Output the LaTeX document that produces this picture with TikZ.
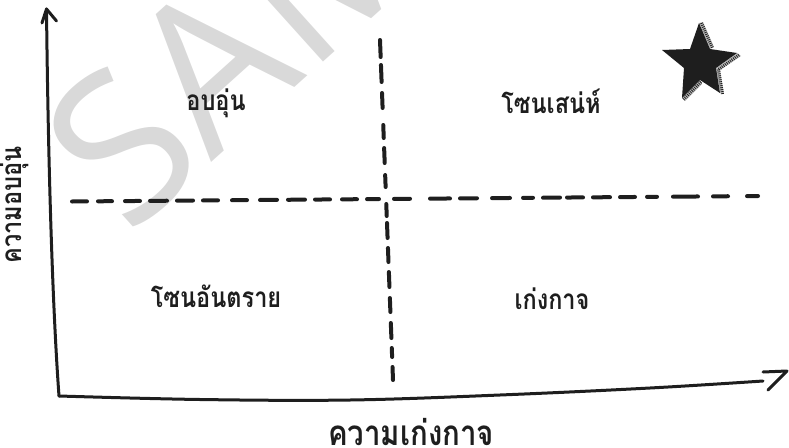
\documentclass[tikz,border=0pt]{standalone}
\usepackage{fontspec}
\newfontfamily\thaifont[Script=Thai]{Loma}
\newfontfamily\wmfont{Open Sans}
\definecolor{ink}{HTML}{1E1E1E}
\definecolor{wm}{HTML}{D9D9D9}
\newcommand{\sq}[1]{\scalebox{0.84}[1]{#1}}
\tikzset{
  lbl/.style={inner sep=0pt, text=ink, font=\thaifont\bfseries\fontsize{28}{32}\selectfont},
  biglbl/.style={inner sep=0pt, text=ink, font=\thaifont\bfseries\fontsize{35}{40}\selectfont},
  axis/.style={draw=ink, line width=3pt, line cap=round, line join=round},
  dashseg/.style={draw=ink, line width=4pt, line cap=round},
}
\begin{document}
\begin{tikzpicture}[x=1pt,y=-1pt]
\useasboundingbox (0,0) rectangle (789,447);
% watermark
\begin{scope}
\clip (0,0) rectangle (789,447);
\node[rotate=42, anchor=base west, inner sep=0pt, text=wm,
      font=\wmfont\fontsize{205}{205}\selectfont] (wmark) at (128,238) {SAMPLE};
\end{scope}
% axes
\coordinate (origin) at (59,396);
\coordinate (ytip) at (46.5,9);
\coordinate (xtip) at (787,371);
\draw[axis] (origin) .. controls (52,300) and (48,150) .. (ytip);
\draw[axis] (42,23) -- (ytip) -- (56.5,21);
\draw[axis] plot[smooth, tension=0.6] coordinates {(origin) (200,399.5) (350,400) (500,395) (650,388) (763,381)};
\draw[axis] (763,372) -- (xtip) -- (768,390);
% horizontal dashed divider
\foreach \a/\b in {72/87,98/112,125/140,150/167,177/193,203/218,232/247,260/277,288/305,315/330,342/357,367/379,
                   394/410,430/450,460/477,492/510,523/533,543/560,567/583,593/610,620/635,647/657,673/698,713/728,747/758}{
  \draw[dashseg] (\a,{201.5-(\a-72)*5.5/686}) -- (\b,{201.5-(\b-72)*5.5/686});
}
% vertical dashed divider
\foreach \a/\b in {40/57,65/82,93/108,125/138,148/163,175/187,204/216,223/238,248/262,272/287,298/312,323/338,348/357,367/380}{
  \draw[dashseg] ({380+(\a-40)*13/340},\a) -- ({380+(\b-40)*13/340},\b);
}
% star
\coordinate (sc) at (700,63);
\fill[gray!55] (699,23) -- (703,22) -- (714,47) -- (710,49) -- cycle;
\fill[gray!55] (737,53) -- (741,56) -- (720,70) -- (716,68) -- cycle;
\fill[gray!55] (716,68) -- (720,70) -- (724,94) -- (720,93) -- cycle;
\fill[gray!55] (700,80) -- (702,84) -- (685,101) -- (682,98) -- cycle;
\draw[ink, line width=3pt, dash pattern=on 0.8pt off 1.2pt] (701.5,23) -- (712.5,48);
\draw[ink, line width=3pt, dash pattern=on 0.8pt off 1.2pt] (739,55) -- (718.5,69.5);
\draw[ink, line width=3pt, dash pattern=on 0.8pt off 1.2pt] (718.5,69.5) -- (722.5,94);
\draw[ink, line width=3pt, dash pattern=on 0.8pt off 1.2pt] (701,82) -- (683.5,99.5);
\fill[ink] (699,23) -- (710,49) -- (737,53) -- (716,68) -- (720,93) -- (700,80) -- (682,98) -- (684,68) -- (662,50) -- (690,49) -- cycle;
% labels
\node[lbl] (warm) at (216,103) {\sq{อบอุ่น}};
\node[lbl] (charm) at (551,101) {\sq{โซนเสน่ห์}};
\node[lbl] (danger) at (216,296) {\sq{โซนอันตราย}};
\node[lbl] (comp) at (552,299) {\sq{เก่งกาจ}};
\node[biglbl] (xlab) at (411,432) {\sq{ความเก่งกาจ}};
\node[lbl, rotate=90] (ylab) at (14,205) {\sq{ความอบอุ่น}};
\end{tikzpicture}
\end{document}
